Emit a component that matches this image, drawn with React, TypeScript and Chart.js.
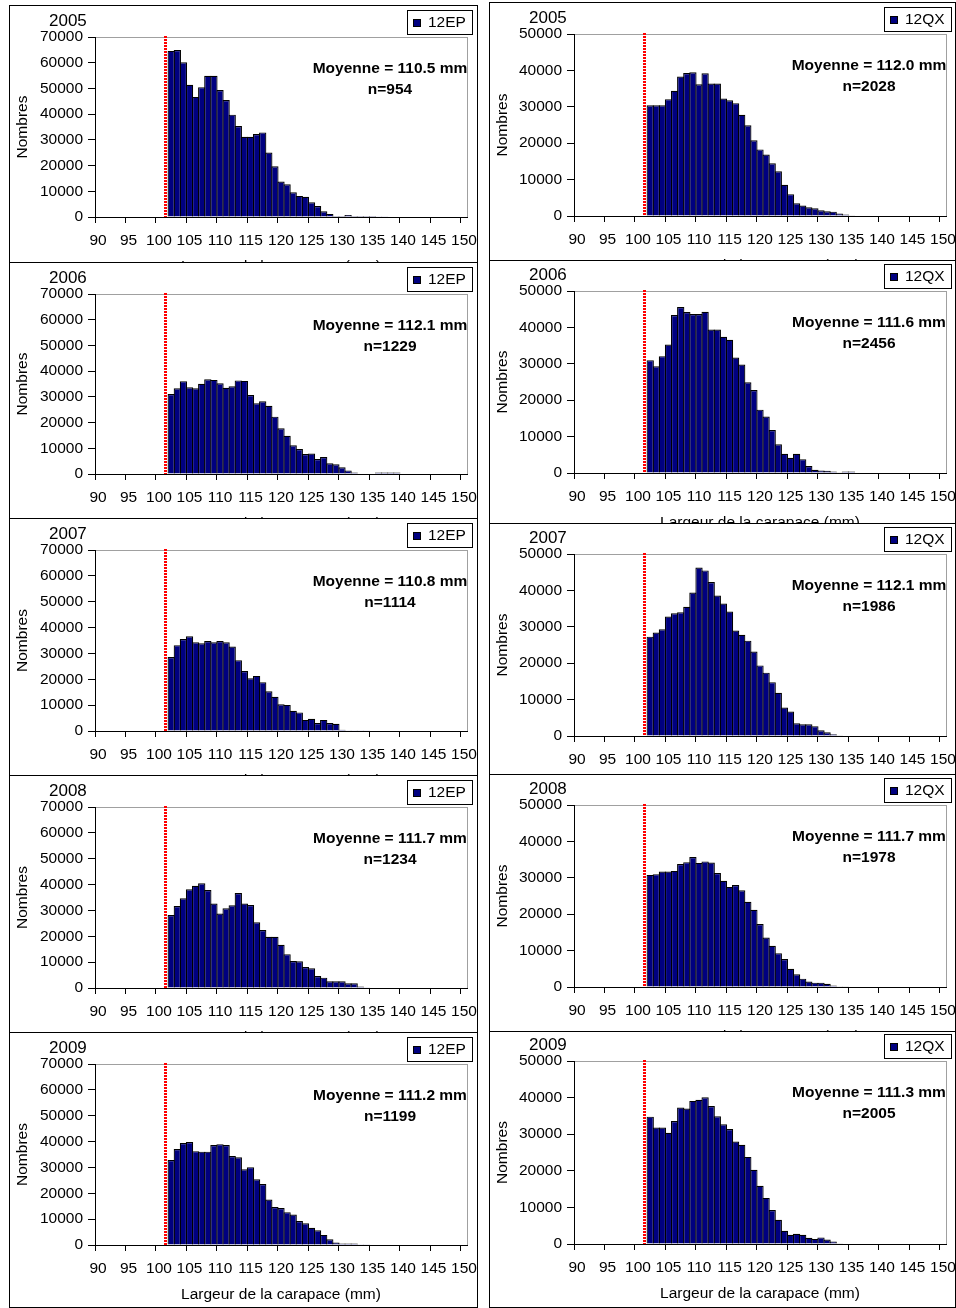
import React, { useEffect, useRef } from 'react';
import { Chart, registerables } from 'chart.js';

Chart.register(...registerables);

const FONT = "'Liberation Sans', Arial, Helvetica, sans-serif";
const NAVY = '#000080';

// x categories (carapace width, mm)
const categories = ['90','91','92','93','94','95','96','97','98','99','100','101','102','103','104','105','106','107','108','109','110','111','112','113','114','115','116','117','118','119','120','121','122','123','124','125','126','127','128','129','130','131','132','133','134','135','136','137','138','139','140','141','142','143','144','145','146','147','148','149','150'];
const xTickLabels = ['90','95','100','105','110','115','120','125','130','135','140','145','150'];
const legalSize = '101';

// size classes that carry data
const binSizes = ['102','103','104','105','106','107','108','109','110','111','112','113','114','115','116','117','118','119','120','121','122','123','124','125','126','127','128','129','130','131','132','133','134','135','136','137','138','139'];

const years = ['2005', '2006', '2007', '2008', '2009'];

// 12EP
const ep2005 = [64600, 64900, 60200, 51400, 46700, 50500, 54900, 54900, 49400, 45500, 39800, 35400, 31200, 31200, 32300, 32900, 25100, 19700, 13800, 12700, 9600, 8200, 7900, 5700, 4300, 2200, 1200, 400, 400, 800, 400, 400, 400, 400, 300, 300, null, null];
const ep2006 = [31100, 33300, 36100, 33700, 33300, 35100, 36800, 36600, 35300, 33500, 34100, 36400, 36200, 30700, 27500, 28300, 26500, 22300, 17800, 14900, 11200, 9700, 7800, 8000, 5800, 6600, 4200, 3800, 2600, 1400, 600, null, null, null, 600, 600, 600, 600];
const ep2007 = [28600, 33200, 35600, 36600, 34300, 33900, 34800, 34300, 34800, 34300, 32700, 27400, 23200, 20400, 21300, 18900, 15400, 13200, 10300, 10100, 7800, 7200, 4300, 4700, 3100, 4300, 3100, 2800, 500, 300, 300, 300, 300, null, null, null, null, null];
const ep2008 = [28200, 31700, 34700, 38200, 39500, 40500, 37900, 32700, 28800, 30800, 32000, 36700, 32700, 32100, 25400, 22400, 19800, 19800, 16700, 13100, 10400, 10300, 8100, 7600, 4600, 4000, 2600, 2600, 2600, 1800, 1800, 600, 300, null, null, null, null, null];
const ep2009 = [32900, 37100, 39400, 39800, 36300, 36100, 36100, 38700, 39000, 38700, 34400, 33900, 29300, 30100, 25400, 23600, 17600, 14700, 14300, 12700, 11800, 9300, 8400, 6700, 5700, 3900, 2200, 1000, 600, 600, 600, 300, 300, null, null, null, null, null];

// 12QX
const qx2005 = [30400, 30400, 30400, 32100, 34400, 38300, 39300, 39500, 36200, 39200, 36400, 36400, 32300, 31800, 31000, 27800, 24900, 20800, 18300, 16900, 14500, 12300, 8600, 6000, 3500, 2900, 2400, 2100, 1600, 1300, 1200, 700, 400, 200, null, null, null, null];
const qx2006 = [31000, 29300, 32100, 35300, 43400, 45600, 44200, 43700, 43700, 44300, 39400, 39400, 37400, 36600, 31700, 29800, 24900, 22800, 17400, 15500, 11800, 7900, 5300, 4200, 5300, 3800, 1900, 900, 700, 600, 400, 200, 400, 400, null, null, null, null];
const qx2007 = [27300, 28400, 29300, 32800, 33700, 34000, 35500, 39400, 46300, 45500, 42300, 38600, 36400, 34200, 29000, 27800, 26200, 23200, 19400, 17400, 14800, 11900, 7800, 6700, 3500, 3200, 3200, 2700, 1600, 1000, 500, 200, null, null, null, null, null, null];
const qx2008 = [30800, 31000, 31700, 31700, 31900, 33800, 34300, 35700, 34100, 34500, 34200, 31300, 29200, 27500, 28000, 26600, 23400, 21200, 17300, 13600, 11300, 9300, 7700, 5000, 3500, 2300, 1500, 1200, 1200, 900, 400, 200, 200, null, null, null, null, null];
const qx2009 = [34800, 31800, 31800, 30400, 33600, 37300, 37000, 39100, 39400, 40100, 37700, 34900, 32700, 31400, 28000, 27100, 23800, 20300, 15900, 12600, 9300, 6600, 3600, 2500, 2800, 2500, 1700, 1400, 1800, 1200, 700, 200, null, null, null, null, null, null];

const epSeries = [ep2005, ep2006, ep2007, ep2008, ep2009];
const qxSeries = [qx2005, qx2006, qx2007, qx2008, qx2009];
const epMeans = ['110.5', '112.1', '110.8', '111.7', '111.2'];
const epCounts = [954, 1229, 1114, 1234, 1199];
const qxMeans = ['112.0', '111.6', '112.1', '111.7', '111.3'];
const qxCounts = [2028, 2456, 1986, 1978, 2005];
const epYMax = 70000;
const qxYMax = 50000;
const yStep = 10000;

type PanelSpec = {
  year: string;
  series: string;
  values: (number | null)[];
  mean: string;
  count: number;
  yMax: number;
  left: number;
  top: number;
  width: number;
  height: number;
  plotTop: number;
  plotBottom: number;
  axisWidth: number;
  padRight: number;
};

const CANVAS_H = 300;
const X_AXIS_H = 60;

const leftTops = [5, 262, 518, 775, 1032];
const rightTops = [2, 260, 523, 774, 1031];
const leftPlot = [[31, 211], [31, 211], [31, 212], [31, 212], [31, 212]];
const rightPlot = [[31, 213], [30, 212], [30, 212], [30, 212], [29, 212]];

function makeDeco(p: PanelSpec) {
  return {
    id: 'deco',
    beforeDraw(chart: any) {
      const { ctx, chartArea: a } = chart;
      ctx.save();
      ctx.fillStyle = '#ffffff';
      ctx.fillRect(0, 0, chart.width, chart.height);
      ctx.strokeStyle = '#a0a0a0';
      ctx.lineWidth = 1;
      ctx.strokeRect(Math.round(a.left) + 0.5, Math.round(a.top) + 0.5, Math.round(a.right - a.left), Math.round(a.bottom - a.top));
      ctx.restore();
    },
    afterDatasetsDraw(chart: any) {
      const { ctx, chartArea: a } = chart;
      const x = chart.scales.x.getPixelForValue(categories.indexOf(legalSize));
      ctx.save();
      ctx.strokeStyle = '#ff0000';
      ctx.lineWidth = 3;
      ctx.setLineDash([2, 1]);
      ctx.beginPath();
      ctx.moveTo(Math.round(x) + 0.5, Math.round(a.top) - 1);
      ctx.lineTo(Math.round(x) + 0.5, a.bottom);
      ctx.stroke();
      ctx.restore();
    },
    afterDraw(chart: any) {
      const { ctx, chartArea: a } = chart;
      ctx.save();
      // year
      ctx.fillStyle = '#000';
      ctx.textBaseline = 'middle';
      ctx.textAlign = 'left';
      ctx.font = `17px ${FONT}`;
      ctx.fillText(p.year, 39, a.top - 16);
      // legend
      ctx.font = `15.5px ${FONT}`;
      const tw = ctx.measureText(p.series).width;
      const bw = Math.round(tw + 27);
      const bh = 24;
      const bx = Math.round(a.right + 5 - bw);
      const by = Math.round(a.top - 27);
      ctx.strokeStyle = '#000';
      ctx.lineWidth = 1;
      ctx.strokeRect(bx + 0.5, by + 0.5, bw, bh);
      ctx.fillStyle = NAVY;
      ctx.fillRect(bx + 6, by + 9, 8, 8);
      ctx.strokeStyle = '#000';
      ctx.strokeRect(bx + 6.5, by + 9.5, 7, 7);
      ctx.fillStyle = '#000';
      ctx.fillText(p.series, bx + 21, by + bh / 2 + 1);
      // mean text
      ctx.font = `bold 15.5px ${FONT}`;
      ctx.textAlign = 'center';
      const cx = a.left + 295;
      ctx.fillText(`Moyenne = ${p.mean} mm`, cx, a.top + 32);
      ctx.fillText(`n=${p.count}`, cx, a.top + 53);
      ctx.restore();
    },
  };
}

function Panel({ p }: { p: PanelSpec }) {
  const ref = useRef<HTMLCanvasElement>(null);
  useEffect(() => {
    const canvas = ref.current;
    if (!canvas) return;
    const font = { family: FONT, size: 15.5 };
    const chart = new Chart(canvas, {
      type: 'bar',
      data: {
        labels: categories,
        datasets: [
          {
            label: p.series,
            data: binSizes.map((s, i) => ({ x: s, y: p.values[i] })) as any,
            backgroundColor: NAVY,
            borderColor: '#000000',
            borderWidth: 1.2,
            inflateAmount: 0,
            barPercentage: 1,
            categoryPercentage: 1.197,
          },
        ],
      },
      options: {
        responsive: false,
        animation: false,
        devicePixelRatio: 1,
        events: [],
        layout: {
          padding: {
            top: p.plotTop,
            left: 0,
            right: p.padRight,
            bottom: CANVAS_H - p.plotBottom - X_AXIS_H,
          },
        },
        plugins: {
          legend: { display: false },
          tooltip: { enabled: false },
          title: { display: false },
        },
        scales: {
          x: {
            type: 'category',
            offset: true,
            ticks: {
              autoSkip: false,
              maxRotation: 0,
              minRotation: 0,
              color: '#000',
              font,
              padding: 8,
              callback: (_v: any, idx: number) => (xTickLabels.includes(categories[idx]) ? categories[idx] : ''),
            },
            grid: {
              offset: true,
              drawOnChartArea: false,
              drawTicks: true,
              tickLength: 6,
              color: '#000',
              tickColor: (c: any) => (c.index % 5 === 0 ? '#000' : 'rgba(0,0,0,0)'),
            },
            border: { display: true, color: '#000', width: 1 },
            title: {
              display: true,
              text: 'Largeur de la carapace (mm)',
              color: '#000',
              font,
              padding: { top: 0, bottom: 1 },
            },
            afterFit: (s: any) => {
              s.height = X_AXIS_H;
              s.paddingLeft = 0;
              s.paddingRight = 0;
            },
          },
          y: {
            min: 0,
            max: p.yMax,
            ticks: {
              stepSize: yStep,
              color: '#000',
              font,
              padding: 5,
              callback: (v: any) => String(v),
            },
            grid: {
              drawOnChartArea: false,
              drawTicks: true,
              tickLength: 7,
              color: '#000',
            },
            border: { display: true, color: '#000', width: 1 },
            title: {
              display: true,
              text: 'Nombres',
              color: '#000',
              font,
              padding: { top: 3, bottom: 0 },
            },
            afterFit: (s: any) => {
              s.width = p.axisWidth;
            },
          },
        },
      } as any,
      plugins: [makeDeco(p)],
    });
    return () => chart.destroy();
  }, [p]);

  return (
    <div
      style={{
        position: 'absolute',
        left: p.left,
        top: p.top,
        width: p.width,
        height: p.height,
        border: '1px solid #000',
        boxSizing: 'border-box',
        overflow: 'hidden',
        background: '#fff',
      }}
    >
      <canvas
        ref={ref}
        width={p.width - 2}
        height={CANVAS_H}
        style={{ position: 'absolute', left: 0, top: 0, display: 'block' }}
      />
    </div>
  );
}

const panels: PanelSpec[] = [];
years.forEach((year, i) => {
  const lt = leftTops[i];
  const lNext = i < 4 ? leftTops[i + 1] + 1 : 1308;
  panels.push({
    year,
    series: '12EP',
    values: epSeries[i],
    mean: epMeans[i],
    count: epCounts[i],
    yMax: epYMax,
    left: 9,
    top: lt,
    width: 469,
    height: lNext - lt,
    plotTop: leftPlot[i][0],
    plotBottom: leftPlot[i][1],
    axisWidth: 85,
    padRight: 10,
  });
  const rt = rightTops[i];
  const rNext = i < 4 ? rightTops[i + 1] + 1 : 1308;
  panels.push({
    year,
    series: '12QX',
    values: qxSeries[i],
    mean: qxMeans[i],
    count: qxCounts[i],
    yMax: qxYMax,
    left: 489,
    top: rt,
    width: 467,
    height: rNext - rt,
    plotTop: rightPlot[i][0],
    plotBottom: rightPlot[i][1],
    axisWidth: 84,
    padRight: 9,
  });
});

export default function App() {
  return (
    <div
      style={{
        position: 'absolute',
        left: 0,
        top: 0,
        width: 956,
        height: 1308,
        overflow: 'hidden',
        background: '#fff',
      }}
    >
      {panels.map((p) => (
        <Panel key={p.series + p.year} p={p} />
      ))}
    </div>
  );
}
